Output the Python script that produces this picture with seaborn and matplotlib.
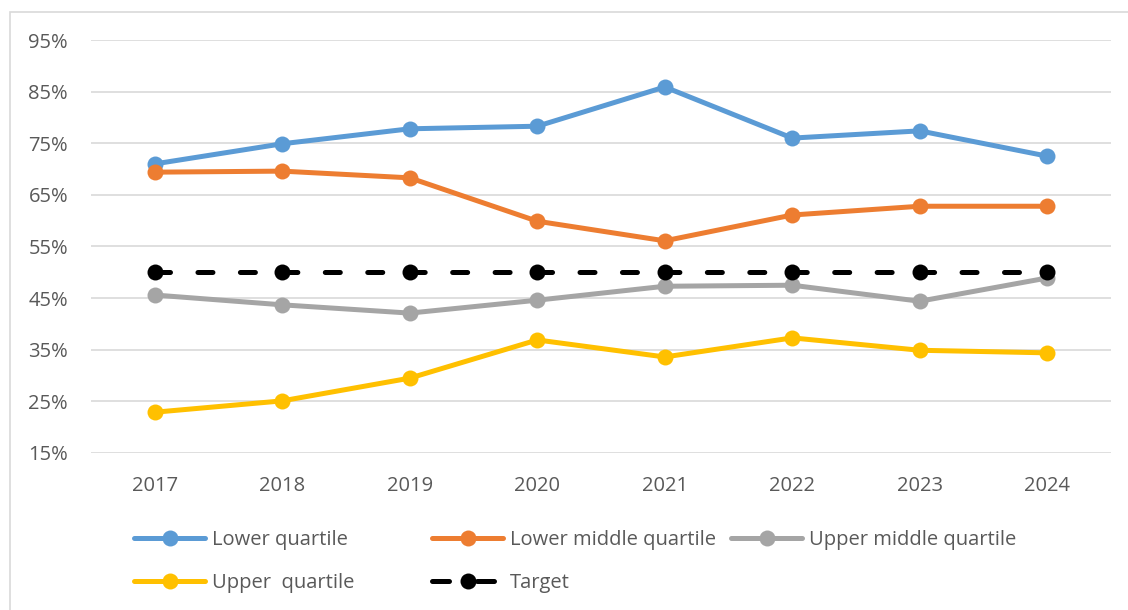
import matplotlib
matplotlib.use("Agg")
import matplotlib.pyplot as plt
from matplotlib.patches import Rectangle
from matplotlib.lines import Line2D
import seaborn as sns
import pandas as pd

# Data (percent)
years = [2017, 2018, 2019, 2020, 2021, 2022, 2023, 2024]
lower_quartile = [71.0, 74.9, 77.8, 78.3, 85.9, 76.0, 77.4, 72.5]
lower_middle_quartile = [69.4, 69.6, 68.3, 59.9, 56.1, 61.1, 62.8, 62.8]
upper_middle_quartile = [45.6, 43.7, 42.1, 44.6, 47.3, 47.5, 44.4, 48.9]
upper_quartile = [22.9, 25.1, 29.5, 36.9, 33.6, 37.3, 34.9, 34.4]
target = [50, 50, 50, 50, 50, 50, 50, 50]

series_names = ["Lower quartile", "Lower middle quartile", "Upper middle quartile",
                "Upper  quartile", "Target"]
series_values = [lower_quartile, lower_middle_quartile, upper_middle_quartile,
                 upper_quartile, target]
colors = ["#5B9BD5", "#ED7D31", "#A5A5A5", "#FFC000", "#000000"]
y_ticks = [15, 25, 35, 45, 55, 65, 75, 85, 95]

sns.set_style("white")
plt.rcParams["font.family"] = ["Open Sans", "DejaVu Sans"]

fig = plt.figure(figsize=(11.28, 6.10), dpi=100)
ax = fig.add_axes([91 / 1128, 1 - 453 / 610, (1111 - 91) / 1128, (453 - 40) / 610])

text_color = "#595959"
font_size = 14.5
lw = 3.6
ms = 11.5

handles = {}
for name, values, color in zip(series_names, series_values, colors):
    df = pd.DataFrame({"year": years, "value": values})
    dashed = name == "Target"
    line_ax = sns.lineplot(data=df, x="year", y="value", ax=ax, color=color, linewidth=lw,
                           marker="o", markersize=ms, markeredgewidth=0, zorder=3)
    line = line_ax.lines[-1]
    if dashed:
        line.set_linestyle((0, (3, 5.49)))
        line.set_dash_capstyle("round")
        handle_style = (0, (3.4, 5.6))
    else:
        handle_style = "-"
    line.set_solid_capstyle("round")
    handles[name] = Line2D([], [], color=color, linewidth=lw, marker="o", markersize=ms,
                           markeredgewidth=0, linestyle=handle_style,
                           dash_capstyle="round", solid_capstyle="round")

ax.set_xlim(2016.5, 2024.5)
ax.set_ylim(15, 95)
ax.set_xticks(years)
ax.set_xticklabels([str(y) for y in years])
ax.set_yticks(y_ticks)
ax.set_yticklabels([f"{t}%" for t in y_ticks])
ax.set_xlabel("")
ax.set_ylabel("")
ax.grid(axis="y", color="#D9D9D9", linewidth=1.2, zorder=0)
ax.grid(axis="x", visible=False)
for spine in ax.spines.values():
    spine.set_visible(False)
ax.tick_params(axis="both", length=0, labelsize=font_size, colors=text_color)
ax.tick_params(axis="y", pad=16.5)
ax.tick_params(axis="x", pad=16.5)

# Legend laid out in three fixed columns, like the source
legend_cols = [
    (134, ["Lower quartile", "Upper  quartile"]),
    (432, ["Lower middle quartile", "Target"]),
    (731, ["Upper middle quartile"]),
]
for x_px, names in legend_cols:
    fig.legend([handles[n] for n in names], names,
               loc="upper left", bbox_to_anchor=(x_px / 1128, 1 - 530 / 610),
               frameon=False, fontsize=font_size, labelcolor=text_color,
               handlelength=3.55, handletextpad=0.3, labelspacing=1.15,
               borderpad=0, borderaxespad=0)

# Light outer chart border
fig.patches.append(Rectangle((10 / 1128, -0.1), 1.2, 1.1 - 12 / 610,
                             transform=fig.transFigure, fill=False,
                             edgecolor="#D9D9D9", linewidth=1.2))

fig.savefig("out.png", dpi=100)
